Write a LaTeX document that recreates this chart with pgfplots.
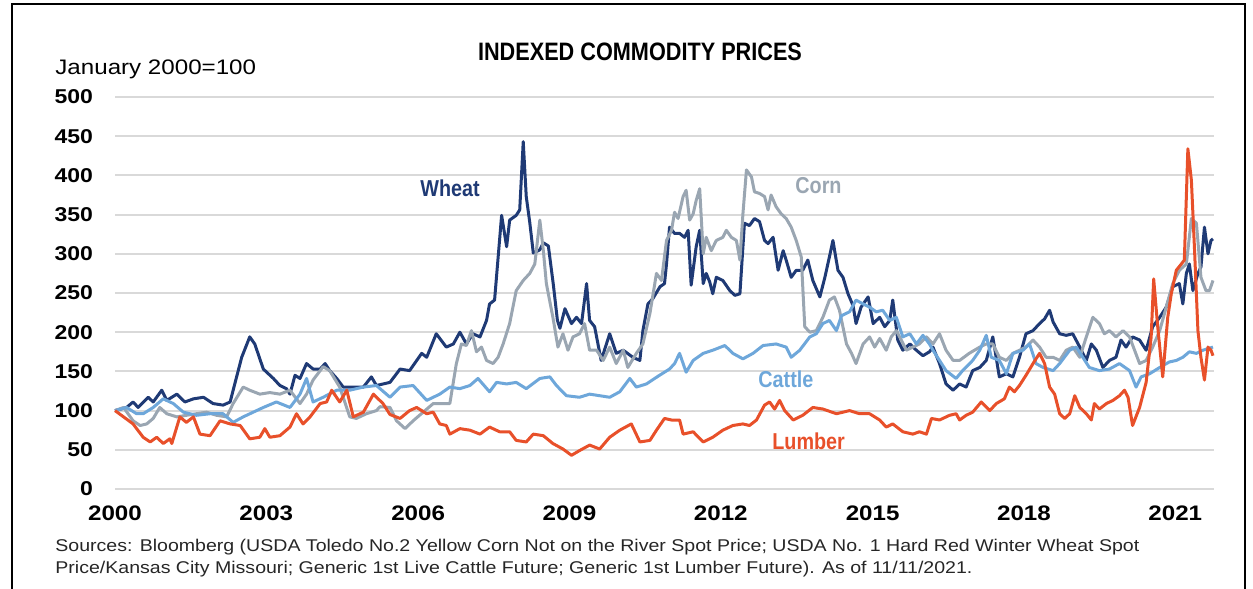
\documentclass[border=0pt]{standalone}
\usepackage{fontspec}
\setmainfont{Liberation Sans}[FakeStretch=1.15]
\newfontfamily\condf{Liberation Sans}[FakeStretch=0.86]
\usepackage{pgfplots}
\pgfplotsset{compat=1.18}
\definecolor{wheatc}{HTML}{1F3A75}
\definecolor{cornc}{HTML}{9AA6B2}
\definecolor{cattlec}{HTML}{6EA7DA}
\definecolor{lumberc}{HTML}{E8502A}
\definecolor{gridc}{HTML}{D9D9D9}
\begin{document}
\begin{tikzpicture}
\path[use as bounding box] (0,0) rectangle (626.5pt,294.5pt);
\draw[line width=1pt] (6pt,0) -- (6pt,292.5pt) -- (622.5pt,292.5pt) -- (622.5pt,0);
\begin{axis}[
  at={(57.5pt,50pt)}, anchor=south west,
  scale only axis, width=549.5pt, height=196pt,
  xmin=2000, xmax=2021.86, ymin=0, ymax=500,
  ytick={0,50,...,500},
  xtick={2000,2003.01,2006.03,2009.04,2012.05,2015.07,2018.08,2021.09},
  xticklabels={2000,2003,2006,2009,2012,2015,2018,2021},
  ymajorgrids, grid style={draw=gridc, line width=1pt},
  axis line style={draw=none}, tick style={draw=none},
  major tick length=0pt,
  /pgf/number format/assume math mode=true,
  yticklabel style={font=\bfseries\fontsize{10}{12}\selectfont, anchor=east, xshift=-7.5pt},
  xticklabel style={font=\bfseries\fontsize{10.5}{12}\selectfont, anchor=north, yshift=-5pt},
  clip=false,
  every axis plot/.append style={line width=1.5pt, line join=round},
]
% Wheat
\addplot[wheatc] coordinates {
(2000.00,100)(2000.23,104)(2000.36,111)(2000.46,104)(2000.66,117)(2000.76,111)(2000.93,126)(2001.03,113)
(2001.23,121)(2001.39,111)(2001.56,115)(2001.76,117)(2001.95,109)(2002.15,107)(2002.29,111)(2002.35,126)
(2002.52,168)(2002.68,194)(2002.78,185)(2002.95,153)(2003.15,141)(2003.28,132)(2003.41,128)(2003.48,121)
(2003.58,145)(2003.68,141)(2003.81,160)(2003.94,153)(2004.08,153)(2004.18,160)(2004.27,151)(2004.41,141)
(2004.54,130)(2004.80,130)(2004.94,130)(2005.10,143)(2005.20,132)(2005.47,136)(2005.67,153)(2005.86,151)
(2006.10,173)(2006.20,168)(2006.39,198)(2006.59,181)(2006.73,185)(2006.86,200)(2006.99,185)(2007.12,198)
(2007.26,194)(2007.39,215)(2007.45,236)(2007.55,241)(2007.69,349)(2007.79,309)(2007.85,343)(2007.98,349)
(2008.05,356)(2008.12,443)(2008.18,373)(2008.25,340)(2008.32,301)(2008.45,305)(2008.52,314)(2008.62,310)
(2008.72,260)(2008.80,215)(2008.85,205)(2008.95,230)(2009.08,211)(2009.18,219)(2009.28,211)(2009.38,262)
(2009.44,215)(2009.54,207)(2009.67,164)(2009.84,198)(2009.97,173)(2010.11,177)(2010.30,168)(2010.44,164)
(2010.50,202)(2010.60,236)(2010.70,243)(2010.84,258)(2010.93,262)(2010.97,287)(2011.03,334)(2011.13,326)
(2011.23,326)(2011.33,321)(2011.40,330)(2011.46,260)(2011.56,309)(2011.63,330)(2011.70,262)(2011.76,275)
(2011.83,264)(2011.89,249)(2011.96,270)(2012.09,266)(2012.23,253)(2012.33,247)(2012.43,249)(2012.52,339)
(2012.62,336)(2012.72,345)(2012.82,341)(2012.92,317)(2012.99,313)(2013.09,321)(2013.19,279)(2013.29,304)
(2013.35,292)(2013.45,270)(2013.55,279)(2013.68,279)(2013.78,292)(2013.88,266)(2014.02,245)(2014.12,270)
(2014.21,296)(2014.28,317)(2014.38,279)(2014.48,270)(2014.58,249)(2014.68,234)(2014.74,211)(2014.84,232)
(2014.98,245)(2015.08,211)(2015.21,219)(2015.31,207)(2015.41,215)(2015.47,241)(2015.57,190)(2015.67,177)
(2015.81,185)(2015.94,177)(2016.07,170)(2016.20,175)(2016.27,181)(2016.40,160)(2016.53,134)(2016.67,126)
(2016.80,134)(2016.93,130)(2017.06,151)(2017.20,155)(2017.33,164)(2017.46,194)(2017.59,143)(2017.73,147)
(2017.86,143)(2017.99,168)(2018.12,198)(2018.26,202)(2018.39,211)(2018.49,217)(2018.59,228)(2018.66,213)
(2018.79,198)(2018.92,196)(2019.05,198)(2019.19,181)(2019.32,164)(2019.42,185)(2019.52,177)(2019.65,155)
(2019.78,164)(2019.91,168)(2020.01,190)(2020.11,181)(2020.24,194)(2020.38,190)(2020.51,177)(2020.64,207)
(2020.78,219)(2020.91,232)(2021.04,258)(2021.17,262)(2021.24,236)(2021.31,275)(2021.37,287)(2021.44,253)
(2021.54,275)(2021.60,283)(2021.67,334)(2021.74,300)(2021.80,317)(2021.84,319)
};
% Corn
\addplot[cornc] coordinates {
(2000.00,100)(2000.17,104)(2000.36,87)(2000.50,81)(2000.63,83)(2000.76,90)(2000.89,104)(2001.03,96)
(2001.23,92)(2001.42,94)(2001.62,96)(2001.82,98)(2002.02,94)(2002.22,92)(2002.35,109)(2002.55,130)
(2002.68,126)(2002.88,121)(2003.08,123)(2003.28,121)(2003.48,126)(2003.68,109)(2003.81,121)(2003.94,139)
(2004.14,156)(2004.27,151)(2004.47,130)(2004.67,92)(2004.80,90)(2005.00,96)(2005.20,100)(2005.27,105)
(2005.47,104)(2005.60,87)(2005.77,77)(2005.93,87)(2006.13,98)(2006.33,109)(2006.46,109)(2006.66,109)
(2006.79,160)(2006.89,185)(2006.99,183)(2007.09,202)(2007.19,175)(2007.29,181)(2007.39,164)(2007.52,160)
(2007.62,168)(2007.72,185)(2007.85,211)(2007.98,253)(2008.12,266)(2008.25,275)(2008.35,287)(2008.45,343)
(2008.52,304)(2008.58,262)(2008.71,219)(2008.81,181)(2008.91,198)(2009.01,177)(2009.11,194)(2009.24,198)
(2009.34,211)(2009.44,177)(2009.58,177)(2009.71,164)(2009.84,181)(2009.97,160)(2010.11,177)(2010.20,155)
(2010.37,173)(2010.50,185)(2010.64,224)(2010.77,275)(2010.87,266)(2010.97,317)(2011.07,330)(2011.13,353)
(2011.20,345)(2011.30,373)(2011.36,381)(2011.43,343)(2011.50,351)(2011.56,368)(2011.63,383)(2011.70,300)
(2011.76,321)(2011.86,304)(2011.96,317)(2012.09,321)(2012.16,330)(2012.26,321)(2012.36,317)(2012.43,292)
(2012.49,351)(2012.56,407)(2012.66,398)(2012.72,379)(2012.82,377)(2012.92,373)(2012.99,356)(2013.05,375)
(2013.15,360)(2013.25,351)(2013.35,345)(2013.45,334)(2013.55,317)(2013.65,296)(2013.72,207)(2013.82,200)
(2013.95,202)(2014.08,219)(2014.21,241)(2014.31,245)(2014.41,228)(2014.55,185)(2014.65,173)(2014.74,160)
(2014.88,185)(2015.01,194)(2015.11,181)(2015.21,192)(2015.34,177)(2015.44,194)(2015.54,202)(2015.64,190)
(2015.74,177)(2015.87,181)(2016.00,185)(2016.14,194)(2016.27,185)(2016.40,198)(2016.53,177)(2016.67,164)
(2016.80,164)(2016.99,173)(2017.20,181)(2017.33,185)(2017.46,185)(2017.59,168)(2017.73,164)(2017.86,173)
(2017.99,177)(2018.12,181)(2018.26,190)(2018.39,181)(2018.52,168)(2018.66,168)(2018.79,164)(2018.92,177)
(2019.05,181)(2019.19,168)(2019.32,194)(2019.45,219)(2019.58,211)(2019.68,198)(2019.78,202)(2019.91,194)
(2020.05,202)(2020.18,194)(2020.28,177)(2020.38,160)(2020.51,164)(2020.64,181)(2020.78,202)(2020.91,232)
(2021.04,262)(2021.17,279)(2021.31,287)(2021.41,345)(2021.51,339)(2021.60,270)(2021.70,253)(2021.77,253)
(2021.84,266)
};
% Cattle
\addplot[cattlec] coordinates {
(2000.00,100)(2000.23,104)(2000.43,96)(2000.56,96)(2000.76,104)(2000.96,115)(2001.16,109)(2001.36,98)
(2001.62,94)(2001.89,96)(2002.15,96)(2002.35,85)(2002.55,92)(2002.75,98)(2002.95,104)(2003.21,111)
(2003.48,104)(2003.68,121)(2003.81,141)(2003.94,111)(2004.14,117)(2004.41,126)(2004.67,126)(2004.94,130)
(2005.20,132)(2005.47,117)(2005.67,130)(2005.93,132)(2006.20,113)(2006.46,121)(2006.66,130)(2006.86,128)
(2007.06,132)(2007.22,141)(2007.45,124)(2007.59,136)(2007.79,134)(2007.98,136)(2008.18,128)(2008.45,141)
(2008.65,143)(2008.78,132)(2008.98,119)(2009.24,117)(2009.44,121)(2009.64,119)(2009.84,117)(2010.04,124)
(2010.24,141)(2010.37,130)(2010.57,134)(2010.83,145)(2011.03,153)(2011.13,160)(2011.23,173)(2011.36,149)
(2011.50,164)(2011.70,173)(2011.89,177)(2012.13,183)(2012.29,173)(2012.49,166)(2012.69,173)(2012.89,183)
(2013.15,185)(2013.35,181)(2013.45,168)(2013.62,177)(2013.82,194)(2013.95,198)(2014.08,211)(2014.21,215)
(2014.35,202)(2014.45,221)(2014.61,226)(2014.74,241)(2014.88,236)(2015.01,232)(2015.14,226)(2015.27,228)
(2015.41,215)(2015.54,219)(2015.67,194)(2015.81,198)(2015.94,185)(2016.07,196)(2016.20,185)(2016.27,177)
(2016.40,164)(2016.53,151)(2016.73,141)(2016.86,151)(2017.06,164)(2017.20,177)(2017.33,196)(2017.43,168)
(2017.59,164)(2017.73,147)(2017.86,173)(2018.06,177)(2018.19,185)(2018.32,160)(2018.46,155)(2018.66,151)
(2018.79,160)(2018.99,177)(2019.12,181)(2019.25,168)(2019.38,155)(2019.58,151)(2019.78,153)(2019.98,160)
(2020.18,151)(2020.31,130)(2020.41,143)(2020.58,147)(2020.78,155)(2020.97,162)(2021.11,164)(2021.24,168)
(2021.37,175)(2021.51,173)(2021.64,177)(2021.84,181)
};
% Lumber
\addplot[lumberc] coordinates {
(2000.00,100)(2000.17,92)(2000.36,83)(2000.56,66)(2000.70,60)(2000.83,66)(2000.96,58)(2001.09,64)
(2001.13,58)(2001.29,92)(2001.42,85)(2001.56,92)(2001.69,70)(2001.89,68)(2002.09,87)(2002.29,83)
(2002.49,81)(2002.68,64)(2002.88,66)(2002.98,77)(2003.08,66)(2003.28,68)(2003.48,79)(2003.61,96)
(2003.74,83)(2003.88,92)(2004.08,109)(2004.21,111)(2004.31,126)(2004.47,111)(2004.61,126)(2004.74,92)
(2004.94,98)(2005.14,121)(2005.33,109)(2005.47,95)(2005.67,90)(2005.86,100)(2006.00,104)(2006.20,96)
(2006.33,98)(2006.46,83)(2006.59,81)(2006.66,70)(2006.86,77)(2007.06,75)(2007.26,70)(2007.45,79)
(2007.65,73)(2007.85,73)(2007.98,62)(2008.18,60)(2008.32,70)(2008.52,68)(2008.71,58)(2008.91,51)
(2009.08,43)(2009.24,49)(2009.44,56)(2009.64,51)(2009.84,66)(2010.04,75)(2010.27,83)(2010.44,60)
(2010.64,62)(2010.77,75)(2010.93,90)(2011.07,88)(2011.23,88)(2011.30,70)(2011.50,73)(2011.70,60)
(2011.89,66)(2012.09,75)(2012.29,81)(2012.49,83)(2012.62,81)(2012.76,88)(2012.92,107)(2013.02,111)
(2013.12,102)(2013.22,113)(2013.32,100)(2013.49,88)(2013.68,94)(2013.88,104)(2014.08,102)(2014.35,96)
(2014.48,98)(2014.61,100)(2014.81,96)(2015.01,96)(2015.21,88)(2015.34,79)(2015.47,83)(2015.67,73)
(2015.87,70)(2016.00,73)(2016.14,70)(2016.24,90)(2016.40,88)(2016.60,94)(2016.73,96)(2016.80,88)
(2016.93,94)(2017.06,98)(2017.23,111)(2017.40,100)(2017.53,109)(2017.69,115)(2017.79,130)(2017.89,124)
(2017.99,132)(2018.12,145)(2018.26,160)(2018.39,173)(2018.49,160)(2018.59,130)(2018.69,121)(2018.79,96)
(2018.89,90)(2018.99,96)(2019.09,119)(2019.19,104)(2019.32,96)(2019.42,88)(2019.48,109)(2019.58,102)
(2019.72,109)(2019.85,113)(2019.98,119)(2020.08,126)(2020.15,117)(2020.24,81)(2020.38,104)(2020.51,136)
(2020.61,194)(2020.66,268)(2020.74,207)(2020.84,143)(2020.94,219)(2021.01,249)(2021.11,279)(2021.21,287)
(2021.27,292)(2021.34,434)(2021.41,394)(2021.47,309)(2021.54,202)(2021.60,168)(2021.67,139)(2021.74,181)
(2021.80,177)(2021.84,170)
};
\end{axis}
% title and annotations
\node[font=\condf\bfseries\fontsize{12.6}{14}\selectfont, anchor=base] at (320pt,264pt) {INDEXED COMMODITY PRICES};
\node[font=\fontsize{10.5}{12}\selectfont, anchor=base west, inner sep=0pt] at (27.5pt,257pt) {January 2000=100};
\node[font=\condf\bfseries\fontsize{11.5}{13}\selectfont, text=wheatc, anchor=base west, inner sep=0pt] at (210pt,196pt) {Wheat};
\node[font=\condf\bfseries\fontsize{11.5}{13}\selectfont, text=cornc, anchor=base west, inner sep=0pt] at (397.5pt,197.5pt) {Corn};
\node[font=\condf\bfseries\fontsize{11.5}{13}\selectfont, text=cattlec, anchor=base west, inner sep=0pt] at (379pt,100.5pt) {Cattle};
\node[font=\condf\bfseries\fontsize{11.5}{13}\selectfont, text=lumberc, anchor=base west, inner sep=0pt] at (386pt,69.5pt) {Lumber};
\node[font=\fontsize{8.5}{10}\selectfont, anchor=base west, inner sep=0pt, text=black!85] at (27.5pt,18.5pt) {Sources: Bloomberg (USDA Toledo No.2 Yellow Corn Not on the River Spot Price; USDA No. 1 Hard Red Winter Wheat Spot};
\node[font=\fontsize{8.5}{10}\selectfont, anchor=base west, inner sep=0pt, text=black!85] at (27.5pt,7.5pt) {Price/Kansas City Missouri; Generic 1st Live Cattle Future; Generic 1st Lumber Future). As of 11/11/2021.};
\end{tikzpicture}
\end{document}
